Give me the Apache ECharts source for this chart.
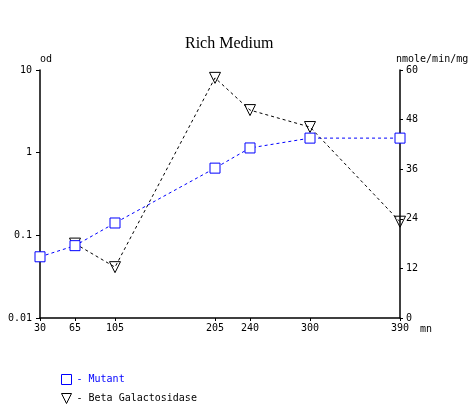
<!DOCTYPE html>
<html><head><meta charset="utf-8">
<script src="https://cdn.jsdelivr.net/npm/echarts@6/dist/echarts.min.js"></script>
<style>html,body{margin:0;padding:0;background:#fff}#c{width:472px;height:405px}</style>
</head><body><div id="c"></div>
<script>
var times = [30, 65, 105, 205, 240, 300, 390];
var mutantTimes = [30, 65, 105, 205, 240, 300, 390];
var mutantOD = [0.055, 0.075, 0.141, 0.65, 1.14, 1.5, 1.5];
var betaTimes = [65, 105, 205, 240, 300, 390];
var betaActivity = [18, 12.3, 58.1, 50.3, 46.2, 23.3];
var leftTicks = [0.01, 0.1, 1, 10];
var leftTickLabels = ['0.01', '0.1', '1', '10'];

var mono = 'DejaVu Sans Mono';
var chart = echarts.init(document.getElementById('c'), null, {renderer: 'canvas'});
function pairs(xs, ys){ return xs.map(function(x,i){ return [x, ys[i]]; }); }
var triPath = 'path://M0,0 L10,0 L5,10 Z';
function legendFor(name, icon, color, top){
  return {
    orient: 'vertical', left: 61, top: top, padding: 0, itemWidth: 10, itemHeight: 10, itemGap: 4,
    selectedMode: false,
    formatter: function(n){ return '- ' + n; },
    itemStyle: {color: 'transparent', borderColor: color, borderWidth: 1},
    lineStyle: {width: 0, opacity: 0},
    textStyle: {fontFamily: mono, fontSize: 10, color: color},
    data: [{name: name, icon: icon}]
  };
}
chart.setOption({
  animation: false,
  backgroundColor: '#fff',
  title: {text: 'Rich Medium', left: 180, top: 31,
    textStyle: {fontFamily: 'Liberation Serif', fontSize: 16, fontWeight: 'normal', color: '#000'}},
  grid: {left: 40, right: 72, top: 70, bottom: 87},
  legend: [
    legendFor('Mutant', 'rect', '#0000ff', 374),
    legendFor('Beta Galactosidase', triPath, '#000000', 393)
  ],
  xAxis: {
    type: 'value', min: 30, max: 390,
    name: 'mn', nameLocation: 'end', nameGap: 20,
    nameTextStyle: {fontFamily: mono, fontSize: 10, color: '#000', verticalAlign: 'top', padding: [6,0,0,0]},
    axisLine: {lineStyle: {color: '#000', width: 1.5}},
    axisTick: {show: true, length: 3, customValues: times, lineStyle: {color: '#000'}},
    axisLabel: {customValues: times, fontFamily: mono, fontSize: 10, color: '#000', margin: 5},
    splitLine: {show: false}
  },
  yAxis: [
    {
      type: 'log', logBase: 10, min: 0.01, max: 10, position: 'left',
      name: 'od', nameLocation: 'end', nameGap: 6,
      nameTextStyle: {fontFamily: mono, fontSize: 10, color: '#000', align: 'left'},
      axisLine: {show: true, lineStyle: {color: '#000', width: 1.5}},
      axisTick: {show: true, length: 4, lineStyle: {color: '#000'}},
      axisLabel: {fontFamily: mono, fontSize: 10, color: '#000', margin: 8,
        formatter: function(v){ var i = leftTicks.findIndex(function(t){ return Math.abs(Math.log10(t) - Math.log10(v)) < 1e-6; }); return i >= 0 ? leftTickLabels[i] : ''; }},
      splitLine: {show: false}
    },
    {
      type: 'value', min: 0, max: 60, interval: 12, position: 'right',
      name: 'nmole/min/mg', nameLocation: 'end', nameGap: 6,
      nameTextStyle: {fontFamily: mono, fontSize: 10, color: '#000', align: 'left', padding: [0,0,0,-4]},
      axisLine: {show: true, lineStyle: {color: '#000', width: 1.5}},
      axisTick: {show: true, length: 3, lineStyle: {color: '#000'}},
      axisLabel: {fontFamily: mono, fontSize: 10, color: '#000', margin: 6},
      splitLine: {show: false}
    }
  ],
  series: [
    {
      name: 'Mutant', type: 'line', yAxisIndex: 0,
      data: pairs(mutantTimes, mutantOD),
      symbol: 'rect', symbolSize: 10,
      itemStyle: {color: '#fff', borderColor: '#0000ff', borderWidth: 1},
      lineStyle: {color: '#0000ff', width: 1, type: [3, 3]},
      z: 3
    },
    {
      name: 'Beta Galactosidase', type: 'line', yAxisIndex: 1,
      data: pairs(betaTimes, betaActivity),
      symbol: 'triangle', symbolRotate: 180, symbolSize: 11,
      itemStyle: {color: 'transparent', borderColor: '#000', borderWidth: 1},
      lineStyle: {color: '#000', width: 1, type: [3, 3]},
      z: 2
    }
  ]
});
</script>
</body></html>
